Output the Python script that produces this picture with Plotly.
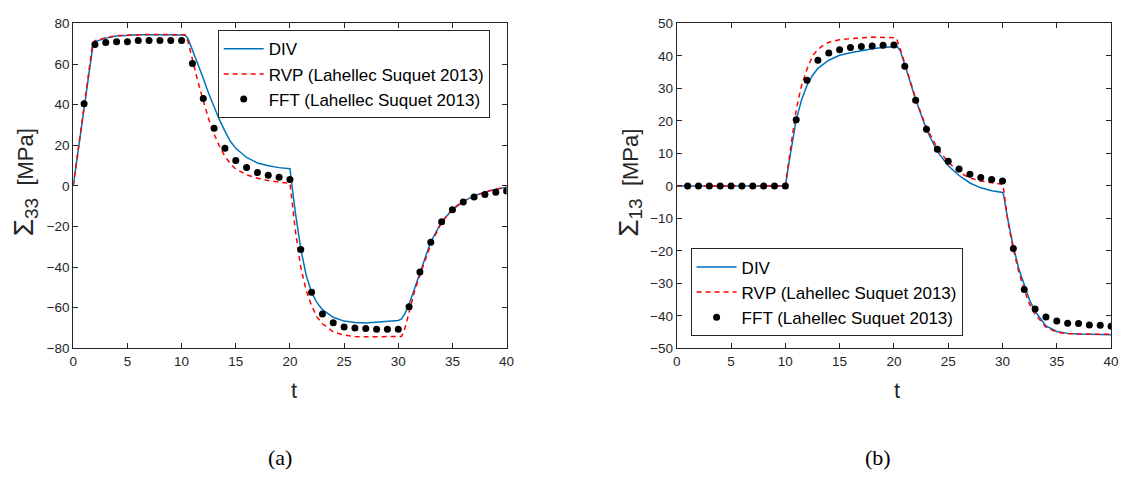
import plotly.graph_objects as go

# ---------------- data: panel (a) Sigma_33 ----------------
t_div_a = [0, 1.85, 2, 3, 4, 5, 6, 7, 8, 9, 10, 10.3, 10.6, 11, 11.5, 12, 12.5, 13, 13.5, 14, 14.5, 15, 16, 17, 18, 19, 20,
           20.15, 20.5, 21, 21.5, 22, 22.5, 23, 24, 25, 26, 27, 28, 29, 30, 30.3, 30.6, 31, 31.5, 32, 32.5, 33, 34, 35, 36, 37, 38, 39, 40]
s_div_a = [0, 70.5, 71, 72.8, 73.8, 74.2, 74.4, 74.5, 74.5, 74.5, 74.5, 74.3, 72.5, 67, 60.5, 53, 45.5, 38.5, 32.5, 27, 22, 18.5, 14, 11.3, 9.9, 9.0, 8.5,
           2.0, -13, -31, -44, -52.5, -57.5, -61, -64.7, -66.6, -67.3, -67.5, -67.2, -66.9, -66.3, -65.5, -63, -58.3, -50.5, -42.4, -34.5, -27.5, -17.7, -11.7, -7.7, -4.8, -3.1, -1.6, -0.7]

t_rvp_a = [0, 1.8, 2, 3, 4, 5, 6, 7, 8, 9, 10, 10.3, 10.6, 11, 11.5, 12, 12.5, 13, 13.5, 14, 14.5, 15, 16, 17, 18, 19, 20,
           20.1, 20.5, 21, 21.5, 22, 22.5, 23, 24, 25, 26, 27, 28, 29, 30, 30.3, 30.6, 31, 31.5, 32, 32.5, 33, 34, 35, 36, 37, 38, 39, 40]
s_rvp_a = [0, 70.5, 71.5, 73, 74, 74.3, 74.5, 74.6, 74.6, 74.6, 74.6, 74.4, 71, 62, 51.5, 42, 33, 25.5, 19.5, 14.5, 11, 8.3, 5.5, 3.8, 2.6, 1.9, 1.3,
           -3, -22, -40, -51.5, -59, -64.5, -67.9, -71.9, -73.5, -74.2, -74.3, -74.3, -74.3, -74.3, -74.2, -70.5, -62, -52, -44, -36, -29, -17.9, -11.5, -7.4, -5.0, -3.0, -1.6, -0.7]

t_fft_a = [1, 2, 3, 4, 5, 6, 7, 8, 9, 10, 11, 12, 13, 14, 15, 16, 17, 18, 19, 20,
           21, 22, 23, 24, 25, 26, 27, 28, 29, 30, 31, 32, 33, 34, 35, 36, 37, 38, 39, 40]
s_fft_a = [40.5, 69.6, 70.6, 71.0, 71.0, 71.6, 71.6, 71.6, 71.6, 71.6, 60.3, 43.1, 28.4, 18.5, 12.5, 9.0, 6.6, 5.2, 4.2, 3.2,
           -31.3, -52.4, -63.1, -67.4, -69.5, -70.0, -70.3, -70.6, -70.6, -70.6, -59.5, -42.4, -27.8, -17.7, -11.7, -7.9, -5.5, -4.2, -3.1, -2.5]

# ---------------- data: panel (b) Sigma_13 ----------------
t_div_b = [0, 10, 10.5, 11, 11.5, 12, 12.5, 13, 14, 15, 16, 17, 18, 19, 20, 20.3, 20.6, 21, 21.5, 22, 22.5, 23, 24, 25, 26, 27, 28, 29, 30,
           30.1, 30.5, 31, 31.5, 32, 32.5, 33, 34, 35, 36, 37, 38, 39, 40]
s_div_b = [0, 0, 10.5, 20.4, 26.5, 31, 34, 36.2, 38.7, 40.2, 41.0, 41.7, 42.2, 42.6, 42.9, 42.9, 41.5, 37.5, 32, 26.6, 21.8, 17.3, 10.6, 6.2, 3.2, 0.9, -0.6, -1.5, -2.0,
           -2.8, -10.5, -18.7, -25.5, -30.7, -35.2, -38.6, -43.1, -44.8, -45.4, -45.6, -45.7, -45.8, -45.8]

t_rvp_b = [0, 10, 10.5, 11, 11.5, 12, 12.5, 13, 13.5, 14, 15, 16, 17, 18, 19, 20, 20.2, 20.5, 21, 21.5, 22, 22.5, 23, 24, 25, 26, 27, 28, 29, 30,
           30.1, 30.5, 31, 31.5, 32, 32.5, 33, 34, 35, 36, 37, 38, 39, 40]
s_rvp_b = [0, 0, 12, 23.5, 31, 36, 40, 42, 43.3, 44.2, 45.0, 45.4, 45.6, 45.8, 45.8, 45.8, 45.6, 43, 37.5, 32, 27, 22.3, 18, 11.6, 7.3, 4.2, 2.4, 1.5, 0.9, 0.5,
           -1.0, -11, -19.5, -26.5, -32, -36.5, -39.5, -43.5, -45.0, -45.5, -45.6, -45.7, -45.7, -45.7]

t_fft_b = [1, 2, 3, 4, 5, 6, 7, 8, 9, 10, 11, 12, 13, 14, 15, 16, 17, 18, 19, 20,
           21, 22, 23, 24, 25, 26, 27, 28, 29, 30, 31, 32, 33, 34, 35, 36, 37, 38, 39, 40]
s_fft_b = [0, 0, 0, 0, 0, 0, 0, 0, 0, 0, 20.4, 32.5, 38.7, 40.9, 41.9, 42.6, 42.9, 43.1, 43.3, 43.4,
           36.8, 26.4, 17.4, 11.3, 7.6, 5.2, 3.6, 2.6, 2.0, 1.5, -19.3, -31.9, -37.9, -40.4, -41.6, -42.3, -42.4, -42.8, -42.9, -43.2]

x_ticks = [0, 5, 10, 15, 20, 25, 30, 35, 40]
y_ticks_a = [-80, -60, -40, -20, 0, 20, 40, 60, 80]
y_ticks_b = [-50, -40, -30, -20, -10, 0, 10, 20, 30, 40, 50]

names = ["DIV", "RVP (Lahellec Suquet 2013)", "FFT (Lahellec Suquet 2013)"]

BLUE = "#0072BD"
RED = "#FF0000"
AX = "#262626"
SANS = "Liberation Sans, Arial, sans-serif"
SERIF = "Liberation Serif, Times New Roman, serif"

fig = go.Figure()

def add_panel(tx_div, sy_div, tx_rvp, sy_rvp, tx_fft, sy_fft, xa, ya, leg):
    fig.add_trace(go.Scatter(x=tx_div, y=sy_div, mode="lines", name=names[0],
                             line=dict(color=BLUE, width=1.5), xaxis=xa, yaxis=ya, legend=leg))
    fig.add_trace(go.Scatter(x=tx_rvp, y=sy_rvp, mode="lines", name=names[1],
                             line=dict(color=RED, width=1.5, dash="5px,4px"), xaxis=xa, yaxis=ya, legend=leg))
    fig.add_trace(go.Scatter(x=tx_fft, y=sy_fft, mode="markers", name=names[2],
                             marker=dict(color="black", size=7), xaxis=xa, yaxis=ya, legend=leg))

add_panel(t_div_a, s_div_a, t_rvp_a, s_rvp_a, t_fft_a, s_fft_a, "x", "y", "legend")
add_panel(t_div_b, s_div_b, t_rvp_b, s_rvp_b, t_fft_b, s_fft_b, "x2", "y2", "legend2")

W, H = 1127, 494
ydom = [1 - 352 / H, 1 - 17 / H]

axis_common = dict(showline=True, linecolor=AX, linewidth=1, mirror="ticks", ticks="inside",
                   ticklen=5, tickcolor=AX, tickwidth=1, showgrid=False, zeroline=False,
                   ticklabeloverflow="allow",
                   tickfont=dict(family=SANS, size=13.5, color=AX))

legend_common = dict(bgcolor="white", bordercolor=AX, borderwidth=1,
                     font=dict(family=SANS, size=17, color="black"),
                     xanchor="left", yanchor="top", tracegroupgap=0, itemwidth=40)

fig.update_layout(
    width=W, height=H,
    margin=dict(l=0, r=0, t=0, b=0),
    paper_bgcolor="white", plot_bgcolor="white",
    xaxis=dict(domain=[70 / W, 508 / W], range=[0, 40], tickvals=x_ticks, anchor="y", **axis_common),
    yaxis=dict(domain=ydom, range=[-80, 80], tickvals=y_ticks_a, anchor="x", **axis_common),
    xaxis2=dict(domain=[680 / W, 1119 / W], range=[0, 40], tickvals=x_ticks, anchor="y2", **axis_common),
    yaxis2=dict(domain=ydom, range=[-50, 50], tickvals=y_ticks_b, anchor="x2", **axis_common),
    legend=dict(x=216 / W, y=1 - 24 / H, **legend_common),
    legend2=dict(x=694 / W, y=1 - 249 / H, **legend_common),
    showlegend=True,
)

def ylab(sub):
    return ("<span style='font-size:28px'>Σ</span><sub><span style='font-size:19px'>" + sub +
            "</span></sub>&nbsp;&nbsp;[MPa]")

ann = []
ann.append(dict(text="t", x=293 / W, y=1 - 395 / H, xref="paper", yref="paper", showarrow=False,
                font=dict(family=SANS, size=22, color=AX), xanchor="center", yanchor="middle"))
ann.append(dict(text="t", x=903 / W, y=1 - 395 / H, xref="paper", yref="paper", showarrow=False,
                font=dict(family=SANS, size=22, color=AX), xanchor="center", yanchor="middle"))
ann.append(dict(text=ylab("33"), x=21 / W, y=1 - 181 / H, xref="paper", yref="paper", showarrow=False,
                textangle=-90, font=dict(family=SANS, size=22, color=AX), xanchor="center", yanchor="middle"))
ann.append(dict(text=ylab("13"), x=632 / W, y=1 - 181 / H, xref="paper", yref="paper", showarrow=False,
                textangle=-90, font=dict(family=SANS, size=22, color=AX), xanchor="center", yanchor="middle"))
ann.append(dict(text="(a)", x=279 / W, y=1 - 465 / H, xref="paper", yref="paper", showarrow=False,
                font=dict(family=SERIF, size=22, color="black"), xanchor="center", yanchor="middle"))
ann.append(dict(text="(b)", x=883 / W, y=1 - 465 / H, xref="paper", yref="paper", showarrow=False,
                font=dict(family=SERIF, size=22, color="black"), xanchor="center", yanchor="middle"))
fig.update_layout(annotations=ann)

fig.write_html("out.html", config={"displayModeBar": False},
               post_script="document.body.style.margin='0';document.body.style.overflow='hidden';")
